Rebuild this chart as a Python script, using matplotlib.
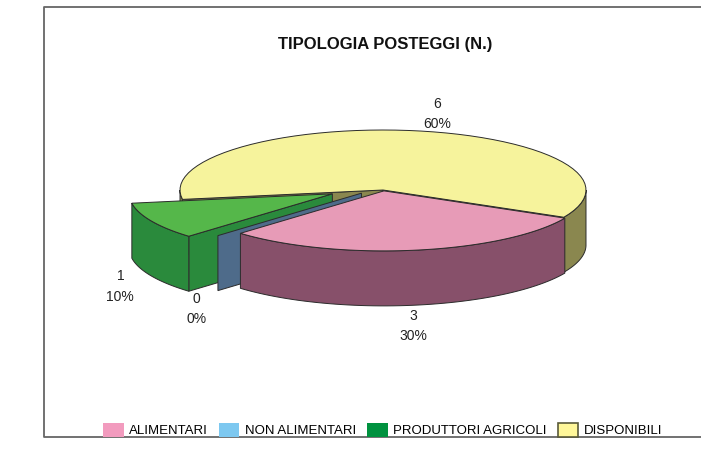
import numpy as np
import matplotlib.pyplot as plt
from matplotlib.patches import Polygon, Patch

labels = ['ALIMENTARI', 'NON ALIMENTARI', 'PRODUTTORI AGRICOLI', 'DISPONIBILI']
values = [3, 0, 1, 6]
top_colors = ['#E79BB7', '#7DC8F0', '#55B74A', '#F6F39C']
side_colors = ['#87506A', '#4E6B8A', '#2A8A3C', '#8A874F']
legend_colors = ['#F29BBE', '#7DC8F0', '#00923F', '#FFF799']
explode = [0.03, 0.15, 0.28, 0.0]
# small nudges for the data labels (pixels)
label_nudge = [(-7, 9), (0, 10), (-4, 5), (18, -5)]

# pie geometry in pixel units
cx, cy, rx, ry, depth = 383, 190, 203, 60, 55
start = 333
total = sum(values)

fig = plt.figure(figsize=(7.01, 4.68), dpi=100)
ax = fig.add_axes([0, 0, 1, 1])
ax.set_xlim(0, 701)
ax.set_ylim(468, 0)
ax.axis('off')


def ring(a0, a1, dx, dy, z=0, n=60):
    t = np.radians(np.linspace(a0, a1, n))
    return np.column_stack([cx + dx + rx * np.cos(t), cy + dy - ry * np.sin(t) + z])


wedges = []
a = start
for i, v in enumerate(values):
    span = 360 * v / total
    lo, hi = a - span, a
    a = lo
    mid = np.radians((lo + hi) / 2)
    dx = explode[i] * rx * np.cos(mid)
    dy = -0.5 * explode[i] * ry * np.sin(mid)
    wedges.append((i, lo, hi, mid, dx, dy))

ec = '#2b2b2b'
for i, lo, hi, mid, dx, dy in sorted(wedges, key=lambda w: -np.sin(w[3])):
    # cut faces
    for ang, vis in ((hi, np.cos(np.radians(hi)) < 0), (lo, np.cos(np.radians(lo)) > 0)):
        if vis:
            c = (cx + dx, cy + dy)
            r = ring(ang, ang, dx, dy, n=1)[0]
            poly = [c, r, (r[0], r[1] + depth), (c[0], c[1] + depth)]
            ax.add_patch(Polygon(poly, closed=True, fc=side_colors[i], ec=ec, lw=0.7))
    # outer side, front half only
    for k in range(-1, 2):
        s0 = max(lo, 180 + 360 * k)
        s1 = min(hi, 360 + 360 * k)
        if s1 > s0:
            top = ring(s0, s1, dx, dy)
            bot = ring(s1, s0, dx, dy, z=depth)
            ax.add_patch(Polygon(np.vstack([top, bot]), fc=side_colors[i], ec=ec, lw=0.7))
    # top face
    if hi > lo:
        arc = ring(lo, hi, dx, dy)
        ax.add_patch(Polygon(np.vstack([[cx + dx, cy + dy], arc]), fc=top_colors[i], ec=ec, lw=0.7))

# data labels
for i, lo, hi, mid, dx, dy in wedges:
    lx = cx + dx + 1.15 * rx * np.cos(mid) + label_nudge[i][0]
    ly = cy + dy - 1.2 * ry * np.sin(mid) + label_nudge[i][1]
    if np.sin(mid) < 0:
        ly += depth
    pct = round(100 * values[i] / total)
    ax.text(lx, ly, f'{values[i]}\n{pct}%', ha='center', va='center', fontsize=10,
            linespacing=1.55, color='#222222', family=['Liberation Sans', 'DejaVu Sans'])

ax.text(385, 44, 'TIPOLOGIA POSTEGGI (N.)', ha='center', va='center', fontsize=12,
        fontweight='bold', color='#111111', family=['Liberation Sans', 'DejaVu Sans'])

handles = []
for i, lab in enumerate(labels):
    if i == 3:
        handles.append(Patch(facecolor=legend_colors[i], edgecolor='#5a5a3a', lw=1.2, label=lab))
    else:
        handles.append(Patch(facecolor=legend_colors[i], edgecolor='none', label=lab))
ax.legend(handles=handles, ncol=4, loc='center', bbox_to_anchor=(0.546, 1 - 430 / 468),
          frameon=False, handlelength=1.55, handleheight=1.3, handletextpad=0.45,
          columnspacing=0.8, prop={'family': ['Liberation Sans', 'DejaVu Sans'], 'size': 9.5})

# outer frame
ax.plot([701, 44, 44, 701], [7, 7, 437, 437], color='#666666', lw=1.3)

fig.savefig('out.png', dpi=100)
